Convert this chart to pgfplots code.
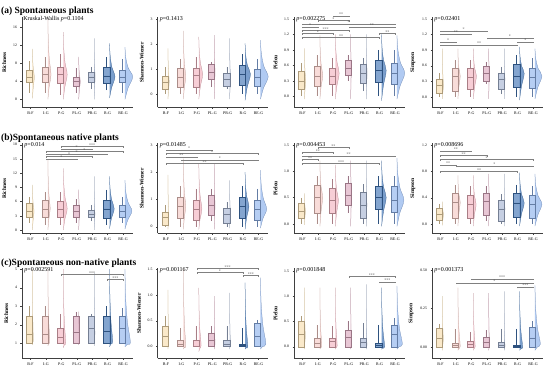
\documentclass[border=0pt]{standalone}
\usepackage{fontspec}
\setmainfont{Liberation Serif}
\usepackage{pgfplots}
\pgfplotsset{compat=1.18}
\usepgfplotslibrary{statistics}
\definecolor{cBF}{HTML}{F7DDAE}
\definecolor{cIG}{HTML}{F5C9C4}
\definecolor{cPG}{HTML}{F2B4C0}
\definecolor{cPLG}{HTML}{DCA9BF}
\definecolor{cPRG}{HTML}{A7B5D2}
\definecolor{cRG}{HTML}{4275B6}
\definecolor{cREG}{HTML}{8FB3EC}
\tikzset{
 brk/.style={font=\fontsize{4}{4}\selectfont, inner sep=0pt, anchor=south, text=black!70},
 ptext/.style={font=\fontsize{6}{6}\selectfont, inner sep=0pt, anchor=west},
 ttl/.style={font=\fontsize{9.5}{10}\selectfont\bfseries, inner sep=0pt, anchor=base west}
}
\pgfplotsset{
 panel/.style={at={#1}, anchor=south west, scale only axis, width=111pt, height=90pt,
  xmin=0.45, xmax=7.65, xtick={1,2,3,4,5,6,7},
  xticklabels={B-F,I-G,P-G,PL-G,PR-G,R-G,RE-G},
  axis lines=left, axis line style={-, line width=0.4pt, black!75},
  tick style={line width=0.3pt, black!75}, tick align=outside, major tick length=1.5pt,
  x tick label style={font=\fontsize{4}{4}\selectfont},
  y tick label style={font=\fontsize{3.8}{4}\selectfont},
  ylabel style={font=\fontsize{5.5}{6}\selectfont\bfseries},
  boxplot/draw direction=y,
  /pgf/number format/assume math mode=true, clip=false},
 dec1/.style={yticklabel style={/pgf/number format/fixed,/pgf/number format/zerofill,/pgf/number format/precision=1}},
 dec2/.style={yticklabel style={/pgf/number format/fixed,/pgf/number format/zerofill,/pgf/number format/precision=2}}
}
% half violin: x, ymin, ymode, ymax, width, colour
\newcommand{\hv}[6]{%
 \pgfmathsetmacro\vxa{#1+0.13}%
 \pgfmathsetmacro\vxb{#1+0.13+0.4*#5}%
 \pgfmathsetmacro\vxc{#1+0.13+#5}%
 \pgfmathsetmacro\vxd{#1+0.13+0.45*#5}%
 \pgfmathsetmacro\vxe{#1+0.13+0.12*#5}%
 \pgfmathsetmacro\vya{#2+0.5*(#3-#2)}%
 \pgfmathsetmacro\vyb{#3+0.28*(#4-#3)}%
 \pgfmathsetmacro\vyc{#3+0.62*(#4-#3)}%
 \edef\tmp{\noexpand\addplot[smooth, tension=0.55, fill=#6, fill opacity=0.7, draw=#6!75!black, line width=0.25pt] coordinates {(\vxa,#2) (\vxb,\vya) (\vxc,#3) (\vxd,\vyb) (\vxe,\vyc) (\vxa,#4)};}\tmp}
% box: x, lw, q1, med, q3, uw, colour
\newcommand{\bx}[7]{%
 \addplot[boxplot prepared={draw position=#1-0.06, lower whisker=#2, lower quartile=#3, median=#4, upper quartile=#5, upper whisker=#6, box extend=0.4, whisker extend=0}, draw=#7!70!black, fill=#7, fill opacity=0.65, line width=0.3pt, solid] coordinates {};}
% bracket: c1, c2, y, label
\newcommand{\br}[4]{%
 \pgfmathsetmacro\bm{(#1+#2)/2}%
 \pgfmathsetmacro\bl{#3-\brh}%
 \edef\tmp{\noexpand\addplot[black!50, line width=0.25pt] coordinates {(#1,\bl) (#1,#3) (#2,#3) (#2,\bl)};
 \noexpand\node[brk] at (axis cs:\bm,#3) {#4};}\tmp}
\begin{document}
\begin{tikzpicture}
\useasboundingbox (0,0) rectangle (550pt,373pt);
\node[ttl] at (1pt,359pt) {(a) Spontaneous plants};
\node[ttl] at (1pt,232pt) {(b)Spontaneous native plants};
\node[ttl] at (1pt,107pt) {(c)Spontaneous non-native plants};
% ---------------- a1
\begin{axis}[panel={(22pt,265.7pt)}, ymin=-1.76, ymax=18.2, ytick={0,4,8,12,16}, ylabel={Richness}]
\hv{1}{0.2}{5}{11.2}{0.12}{cBF}
\hv{2}{0}{5.5}{18}{0.2}{cIG}
\hv{3}{0}{5.5}{14.9}{0.25}{cPG}
\hv{4}{0}{4}{9.4}{0.1}{cPLG}
\hv{5}{0}{5}{13.5}{0.06}{cPRG}
\hv{6}{0.3}{5}{12.4}{0.35}{cRG}
\hv{7}{0}{5}{11.6}{0.5}{cREG}
\bx{1}{1.5}{3.9}{5}{6.5}{8.5}{cBF}
\bx{2}{1.5}{3.9}{5.5}{7.2}{9.5}{cIG}
\bx{3}{1}{3.7}{5.5}{7.2}{10}{cPG}
\bx{4}{1.5}{2.9}{4}{5}{7}{cPLG}
\bx{5}{2.4}{3.9}{5}{6.1}{7.2}{cPRG}
\bx{6}{2}{3.5}{5.2}{7.2}{9.4}{cRG}
\bx{7}{1.5}{3.9}{5}{6.5}{9}{cREG}
\node[ptext] at (rel axis cs:0.01,0.975) {Kruskal-Wallis \textit{p}=0.1104};
\end{axis}
% ---------------- a2
\begin{axis}[panel={(157.5pt,265.7pt)}, ymin=-0.53, ymax=3.09, ytick={0,1,2,3}, ylabel={Shannon-Wiener}]
\hv{1}{-0.2}{0.5}{1.84}{0.08}{cBF}
\hv{2}{-0.2}{0.7}{2.54}{0.15}{cIG}
\hv{3}{-0.2}{0.8}{2.3}{0.25}{cPG}
\hv{4}{-0.2}{0.9}{2.37}{0.05}{cPLG}
\hv{5}{-0.2}{0.6}{2.24}{0.06}{cPRG}
\hv{6}{-0.25}{0.8}{2.04}{0.35}{cRG}
\hv{7}{-0.2}{0.7}{2.17}{0.5}{cREG}
\bx{1}{0}{0.2}{0.5}{0.72}{1.1}{cBF}
\bx{2}{0}{0.3}{0.7}{1.05}{1.4}{cIG}
\bx{3}{0}{0.3}{0.75}{1.05}{1.5}{cPG}
\bx{4}{0.3}{0.6}{0.9}{1.21}{1.3}{cPLG}
\bx{5}{0.2}{0.33}{0.6}{0.86}{1.1}{cPRG}
\bx{6}{0}{0.35}{0.8}{1.18}{1.6}{cRG}
\bx{7}{0}{0.33}{0.7}{0.99}{1.4}{cREG}
\node[ptext] at (rel axis cs:0.02,0.975) {\textit{p}=0.1413};
\end{axis}
% ---------------- a3
\begin{axis}[panel={(294pt,265.7pt)}, ymin=-0.21, ymax=1.53, ytick={0,0.3,0.6,0.9,1.2,1.5}, dec1, ylabel={Pielou}]
\hv{1}{-0.05}{0.3}{0.93}{0.08}{cBF}
\hv{2}{-0.05}{0.4}{1.18}{0.18}{cIG}
\hv{3}{-0.05}{0.45}{1.2}{0.25}{cPG}
\hv{4}{-0.05}{0.55}{1.2}{0.04}{cPLG}
\hv{5}{-0.05}{0.45}{1.2}{0.06}{cPRG}
\hv{6}{-0.08}{0.5}{1.2}{0.3}{cRG}
\hv{7}{-0.05}{0.45}{1.18}{0.5}{cREG}
\bx{1}{0}{0.14}{0.3}{0.49}{0.65}{cBF}
\bx{2}{0}{0.2}{0.4}{0.58}{0.8}{cIG}
\bx{3}{0}{0.23}{0.4}{0.55}{0.75}{cPG}
\bx{4}{0.3}{0.42}{0.55}{0.71}{0.8}{cPLG}
\bx{5}{0.1}{0.25}{0.45}{0.63}{0.75}{cPRG}
\bx{6}{0}{0.27}{0.5}{0.71}{0.9}{cRG}
\bx{7}{0}{0.23}{0.45}{0.65}{0.9}{cREG}
\def\brh{0.025}
\br{3}{4}{1.56}{**}
\br{2}{4}{1.47}{*}
\br{1}{7}{1.40}{*}
\br{1}{2}{1.34}{*}
\br{4}{7}{1.34}{**}
\br{1}{4}{1.28}{***}
\br{1}{3}{1.22}{*}
\br{6}{7}{1.22}{**}
\br{1}{6}{1.14}{**}
\node[ptext] at (rel axis cs:0.02,0.975) {\textit{p}=0.002275};
\end{axis}
% ---------------- a4
\begin{axis}[panel={(432pt,265.7pt)}, ymin=-0.2, ymax=1.53, ytick={0,0.3,0.6,0.9,1.2,1.5}, dec1, ylabel={Simpson}]
\hv{1}{-0.04}{0.22}{0.93}{0.06}{cBF}
\hv{2}{-0.04}{0.4}{0.93}{0.15}{cIG}
\hv{3}{-0.04}{0.4}{0.93}{0.2}{cPG}
\hv{4}{-0.04}{0.45}{0.93}{0.04}{cPLG}
\hv{5}{-0.04}{0.35}{0.93}{0.05}{cPRG}
\hv{6}{-0.06}{0.45}{0.96}{0.3}{cRG}
\hv{7}{-0.04}{0.4}{0.93}{0.45}{cREG}
\bx{1}{0}{0.08}{0.22}{0.35}{0.45}{cBF}
\bx{2}{0}{0.11}{0.4}{0.55}{0.7}{cIG}
\bx{3}{0}{0.15}{0.38}{0.55}{0.7}{cPG}
\bx{4}{0.25}{0.3}{0.45}{0.59}{0.68}{cPLG}
\bx{5}{0.05}{0.15}{0.35}{0.46}{0.58}{cPRG}
\bx{6}{0}{0.18}{0.4}{0.62}{0.8}{cRG}
\bx{7}{0}{0.16}{0.38}{0.55}{0.75}{cREG}
\def\brh{0.025}
\br{1}{4}{1.27}{*}
\br{1}{3}{1.21}{**}
\br{4}{7}{1.13}{*}
\br{1}{2}{1.06}{*}
\br{6}{7}{1.06}{*}
\br{1}{6}{1.0}{**}
\node[ptext] at (rel axis cs:0.02,0.975) {\textit{p}=0.02401};
\end{axis}
% ---------------- b1
\begin{axis}[panel={(22pt,139.7pt)}, ymin=-0.7, ymax=18.3, ytick={0,3,6,9,12,15,18}, ylabel={Richness}]
\hv{1}{0}{4}{9.5}{0.1}{cBF}
\hv{2}{0}{4.5}{14.8}{0.15}{cIG}
\hv{3}{0}{4.5}{13}{0.25}{cPG}
\hv{4}{0}{4}{8.5}{0.06}{cPLG}
\hv{5}{0}{3.3}{11.3}{0.05}{cPRG}
\hv{6}{0.3}{4.5}{11.3}{0.3}{cRG}
\hv{7}{0.2}{4}{10.5}{0.45}{cREG}
\bx{1}{1.5}{2.8}{4}{5.6}{7}{cBF}
\bx{2}{1}{2.8}{4.5}{6.3}{8}{cIG}
\bx{3}{1}{2.8}{4.5}{6.1}{8}{cPG}
\bx{4}{1.5}{2.8}{4}{5.3}{6.5}{cPLG}
\bx{5}{1.8}{2.8}{3.3}{4.2}{5.3}{cPRG}
\bx{6}{1}{2.5}{4.5}{6.3}{8.5}{cRG}
\bx{7}{1.5}{2.8}{4}{5.3}{7}{cREG}
\def\brh{0.3}
\br{3}{7}{17.6}{***}
\br{3}{5}{17.1}{*}
\br{2}{7}{16.6}{*}
\br{2}{6}{16.1}{*}
\br{2}{5}{15.6}{*}
\br{2}{4}{15.0}{*}
\node[ptext] at (rel axis cs:0.02,0.975) {\textit{p}=0.014};
\end{axis}
% ---------------- b2
\begin{axis}[panel={(157.5pt,139.7pt)}, ymin=-0.24, ymax=3.06, ytick={0,1,2,3}, ylabel={Shannon-Wiener}]
\hv{1}{-0.1}{0.35}{1.9}{0.05}{cBF}
\hv{2}{-0.1}{0.75}{2.5}{0.15}{cIG}
\hv{3}{-0.1}{0.65}{2.3}{0.2}{cPG}
\hv{4}{-0.1}{0.8}{2.3}{0.05}{cPLG}
\hv{5}{-0.05}{0.45}{1.7}{0.05}{cPRG}
\hv{6}{-0.1}{0.75}{2.0}{0.25}{cRG}
\hv{7}{-0.05}{0.65}{2.08}{0.4}{cREG}
\bx{1}{0}{0.06}{0.35}{0.55}{0.8}{cBF}
\bx{2}{0}{0.3}{0.75}{1.1}{1.5}{cIG}
\bx{3}{0}{0.25}{0.65}{0.98}{1.4}{cPG}
\bx{4}{0.2}{0.43}{0.8}{1.16}{1.4}{cPLG}
\bx{5}{0}{0.12}{0.45}{0.67}{0.9}{cPRG}
\bx{6}{0}{0.3}{0.75}{1.1}{1.5}{cRG}
\bx{7}{0}{0.25}{0.65}{0.98}{1.4}{cREG}
\def\brh{0.05}
\br{1}{4}{2.82}{*}
\br{1}{7}{2.69}{*}
\br{1}{3}{2.57}{**}
\br{2}{7}{2.46}{*}
\br{1}{6}{2.33}{**}
\node[ptext] at (rel axis cs:0.02,0.975) {\textit{p}=0.01485};
\end{axis}
% ---------------- b3
\begin{axis}[panel={(294pt,139.7pt)}, ymin=-0.18, ymax=1.53, ytick={0,0.5,1,1.5}, dec1, ylabel={Pielou}]
\hv{1}{-0.02}{0.25}{0.58}{0.06}{cBF}
\hv{2}{-0.05}{0.5}{1.2}{0.18}{cIG}
\hv{3}{-0.05}{0.45}{1.12}{0.2}{cPG}
\hv{4}{-0.05}{0.55}{1.2}{0.05}{cPLG}
\hv{5}{-0.05}{0.35}{1.2}{0.05}{cPRG}
\hv{6}{-0.05}{0.5}{1.2}{0.3}{cRG}
\hv{7}{-0.05}{0.45}{1.25}{0.45}{cREG}
\bx{1}{0}{0.11}{0.25}{0.39}{0.5}{cBF}
\bx{2}{0}{0.2}{0.5}{0.74}{0.9}{cIG}
\bx{3}{0}{0.2}{0.45}{0.68}{0.85}{cPG}
\bx{4}{0.2}{0.36}{0.55}{0.77}{0.9}{cPLG}
\bx{5}{0}{0.11}{0.35}{0.61}{0.75}{cPRG}
\bx{6}{0}{0.27}{0.5}{0.71}{0.9}{cRG}
\bx{7}{0}{0.22}{0.45}{0.71}{0.9}{cREG}
\def\brh{0.025}
\br{2}{4}{1.45}{**}
\br{1}{3}{1.36}{**}
\br{1}{7}{1.29}{**}
\br{1}{2}{1.22}{**}
\br{1}{6}{1.15}{***}
\node[ptext] at (rel axis cs:0.02,0.975) {\textit{p}=0.004453};
\end{axis}
% ---------------- b4
\begin{axis}[panel={(432pt,139.7pt)}, ymin=-0.14, ymax=1.225, ytick={0,0.4,0.8,1.2}, dec1, ylabel={Simpson}]
\hv{1}{-0.02}{0.15}{0.34}{0.06}{cBF}
\hv{2}{-0.03}{0.33}{0.74}{0.15}{cIG}
\hv{3}{-0.03}{0.3}{0.74}{0.18}{cPG}
\hv{4}{-0.03}{0.35}{0.76}{0.05}{cPLG}
\hv{5}{-0.03}{0.23}{0.76}{0.05}{cPRG}
\hv{6}{-0.03}{0.32}{0.78}{0.3}{cRG}
\hv{7}{-0.03}{0.3}{0.76}{0.45}{cREG}
\bx{1}{0}{0.06}{0.15}{0.24}{0.3}{cBF}
\bx{2}{0}{0.09}{0.33}{0.47}{0.6}{cIG}
\bx{3}{0}{0.09}{0.3}{0.44}{0.58}{cPG}
\bx{4}{0.05}{0.14}{0.35}{0.47}{0.58}{cPLG}
\bx{5}{0}{0.04}{0.23}{0.36}{0.45}{cPRG}
\bx{6}{0}{0.11}{0.32}{0.47}{0.6}{cRG}
\bx{7}{0}{0.09}{0.3}{0.44}{0.58}{cREG}
\def\brh{0.02}
\br{1}{3}{1.11}{**}
\br{1}{4}{1.04}{**}
\br{1}{7}{0.98}{*}
\br{1}{2}{0.90}{**}
\br{2}{7}{0.88}{*}
\br{1}{6}{0.80}{**}
\node[ptext] at (rel axis cs:0.02,0.975) {\textit{p}=0.008696};
\end{axis}
% ---------------- c1
\begin{axis}[panel={(22pt,14.7pt)}, ymin=0.18, ymax=5.05, ytick={1,2,3,4,5}, ylabel={Richness}]
\hv{1}{0.9}{1.2}{5.0}{0.05}{cBF}
\hv{2}{0.85}{1.1}{5.0}{0.12}{cIG}
\hv{3}{0.75}{1.05}{5.0}{0.15}{cPG}
\hv{4}{0.9}{1.3}{2.7}{0.05}{cPLG}
\hv{5}{0.85}{1.5}{4.8}{0.05}{cPRG}
\hv{6}{0.8}{1.1}{5.0}{0.2}{cRG}
\hv{7}{0.8}{1.05}{5.0}{0.35}{cREG}
\bx{1}{1}{1}{1.5}{2.45}{3}{cBF}
\bx{2}{1}{1}{1.5}{2.45}{3}{cIG}
\bx{3}{1}{1}{1.3}{1.8}{2.6}{cPG}
\bx{4}{1}{1}{1.6}{2.45}{2.7}{cPLG}
\bx{5}{1}{1}{1.8}{2.45}{2.6}{cPRG}
\bx{6}{1}{1}{1.65}{2.45}{3}{cRG}
\bx{7}{1}{1}{1.8}{2.45}{2.9}{cREG}
\def\brh{0.07}
\br{3}{7}{4.73}{***}
\br{6}{7}{4.45}{***}
\node[ptext] at (rel axis cs:0.02,0.975) {\textit{p}=0.002591};
\end{axis}
% ---------------- c2
\begin{axis}[panel={(157.5pt,14.7pt)}, ymin=-0.23, ymax=1.52, ytick={0,0.5,1,1.5}, dec1, ylabel={Shannon-Wiener}]
\hv{1}{-0.05}{0.1}{1.1}{0.05}{cBF}
\hv{2}{-0.05}{0.02}{1.5}{0.15}{cIG}
\hv{3}{-0.1}{0.02}{1.14}{0.15}{cPG}
\hv{4}{-0.05}{0.05}{0.98}{0.05}{cPLG}
\hv{5}{-0.05}{0.03}{1.04}{0.05}{cPRG}
\hv{6}{-0.05}{0.0}{1.24}{0.18}{cRG}
\hv{7}{-0.05}{0.05}{1.34}{0.35}{cREG}
\bx{1}{0}{0}{0.2}{0.4}{0.6}{cBF}
\bx{2}{0}{0}{0.05}{0.13}{0.36}{cIG}
\bx{3}{0}{0}{0.01}{0.13}{0.39}{cPG}
\bx{4}{0}{0}{0.12}{0.26}{0.4}{cPLG}
\bx{5}{0}{0}{0.05}{0.12}{0.39}{cPRG}
\bx{6}{0}{0}{0.02}{0.05}{0.36}{cRG}
\bx{7}{0}{0}{0.2}{0.46}{0.52}{cREG}
\def\brh{0.025}
\br{3}{7}{1.52}{***}
\br{3}{6}{1.44}{*}
\br{6}{7}{1.38}{***}
\node[ptext] at (rel axis cs:0.02,0.975) {\textit{p}=0.001167};
\end{axis}
% ---------------- c3
\begin{axis}[panel={(294pt,14.7pt)}, ymin=-0.23, ymax=1.55, ytick={0,0.5,1,1.5}, dec1, ylabel={Pielou}]
\hv{1}{-0.05}{0.2}{1.17}{0.05}{cBF}
\hv{2}{-0.05}{0.02}{1.17}{0.12}{cIG}
\hv{3}{-0.05}{0.02}{1.17}{0.12}{cPG}
\hv{4}{-0.05}{0.05}{1.17}{0.05}{cPLG}
\hv{5}{-0.05}{0.03}{1.23}{0.05}{cPRG}
\hv{6}{-0.05}{0.0}{1.17}{0.2}{cRG}
\hv{7}{-0.05}{0.05}{1.2}{0.35}{cREG}
\bx{1}{0}{0}{0.25}{0.5}{0.6}{cBF}
\bx{2}{0}{0}{0.07}{0.17}{0.43}{cIG}
\bx{3}{0}{0}{0.1}{0.17}{0.4}{cPG}
\bx{4}{0}{0}{0.18}{0.33}{0.5}{cPLG}
\bx{5}{0}{0}{0.08}{0.17}{0.47}{cPRG}
\bx{6}{0}{0}{0.03}{0.07}{0.43}{cRG}
\bx{7}{0}{0}{0.25}{0.43}{0.57}{cREG}
\def\brh{0.025}
\br{4}{7}{1.39}{***}
\br{6}{7}{1.28}{***}
\node[ptext] at (rel axis cs:0.02,0.975) {\textit{p}=0.001848};
\end{axis}
% ---------------- c4
\begin{axis}[panel={(432pt,14.7pt)}, ymin=-0.072, ymax=0.51, ytick={0,0.25,0.5}, dec2, ylabel={Simpson}]
\hv{1}{-0.02}{0.05}{0.33}{0.05}{cBF}
\hv{2}{-0.02}{0.005}{0.385}{0.15}{cIG}
\hv{3}{-0.02}{0.005}{0.35}{0.12}{cPG}
\hv{4}{-0.02}{0.01}{0.35}{0.05}{cPLG}
\hv{5}{-0.02}{0.005}{0.36}{0.05}{cPRG}
\hv{6}{-0.02}{0.0}{0.36}{0.2}{cRG}
\hv{7}{-0.02}{0.02}{0.4}{0.35}{cREG}
\bx{1}{0}{0}{0.06}{0.124}{0.15}{cBF}
\bx{2}{0}{0}{0.01}{0.026}{0.12}{cIG}
\bx{3}{0}{0}{0.02}{0.04}{0.1}{cPG}
\bx{4}{0}{0}{0.03}{0.063}{0.11}{cPLG}
\bx{5}{0}{0}{0.01}{0.03}{0.12}{cPRG}
\bx{6}{0}{0}{0.005}{0.015}{0.12}{cRG}
\bx{7}{0}{0}{0.06}{0.13}{0.17}{cREG}
\def\brh{0.009}
\br{3}{7}{0.443}{***}
\br{2}{7}{0.417}{*}
\br{6}{7}{0.39}{***}
\node[ptext] at (rel axis cs:0.02,0.975) {\textit{p}=0.001373};
\end{axis}
\end{tikzpicture}
\end{document}
